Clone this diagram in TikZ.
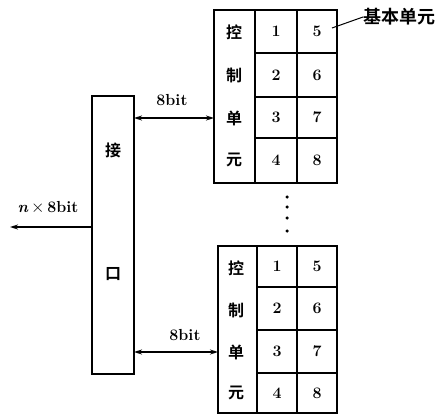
\documentclass[tikz,border=0pt]{standalone}
\usepackage{fontspec}
\newfontfamily\cjk{Noto Sans CJK SC Bold}
\usetikzlibrary{arrows.meta}
\begin{document}
\begin{tikzpicture}[x=1pt,y=-1pt,
  box/.style={draw,line width=2pt,inner sep=0pt,outer sep=0pt},
  lbl/.style={inner sep=0pt,font=\fontsize{16}{16}\selectfont\bfseries},
  ch/.style={inner sep=0pt,font=\cjk\fontsize{16}{16}\selectfont},
  link/.style={line width=2pt,{Stealth[length=8pt,width=5pt]}-{Stealth[length=8pt,width=5pt]}},
  dotn/.style={circle,fill,inner sep=0pt,minimum size=3.5pt}]
\useasboundingbox (0,0) rectangle (441,415);
% interface
\node[box,minimum width=42pt,minimum height=278pt] (iface) at (113,235) {};
\node[ch] (jie) at (113,150) {接};
\node[ch] (kou) at (113,274) {口};
% upper block
\node[box,minimum width=41pt,minimum height=173pt] (uc) at (234.5,96.5) {};
\node[ch] (u1) at (234,32) {控};
\node[ch] (u2) at (234,75) {制};
\node[ch] (u3) at (234,118) {单};
\node[ch] (u4) at (234,160) {元};
\node[box,minimum width=42pt,minimum height=43pt] (ua1) at (276,31.5) {};
\node[box,minimum width=42pt,minimum height=44pt] (ua2) at (276,75) {};
\node[box,minimum width=42pt,minimum height=41pt] (ua3) at (276,117.5) {};
\node[box,minimum width=42pt,minimum height=45pt] (ua4) at (276,160.5) {};
\node[box,minimum width=40pt,minimum height=43pt] (ub1) at (317,31.5) {};
\node[box,minimum width=40pt,minimum height=44pt] (ub2) at (317,75) {};
\node[box,minimum width=40pt,minimum height=41pt] (ub3) at (317,117.5) {};
\node[box,minimum width=40pt,minimum height=45pt] (ub4) at (317,160.5) {};
\node[lbl] at (ua1) {1}; \node[lbl] at (ua2) {2}; \node[lbl] at (ua3) {3}; \node[lbl] at (ua4) {4};
\node[lbl] at (ub1) {5}; \node[lbl] at (ub2) {6}; \node[lbl] at (ub3) {7}; \node[lbl] at (ub4) {8};
% lower block
\node[box,minimum width=39pt,minimum height=167pt] (lc) at (237.5,329.5) {};
\node[ch] (l1) at (236,268) {控};
\node[ch] (l2) at (236,310) {制};
\node[ch] (l3) at (236,352) {单};
\node[ch] (l4) at (236,393) {元};
\node[box,minimum width=40pt,minimum height=41pt] (la1) at (277,266.5) {};
\node[box,minimum width=40pt,minimum height=43pt] (la2) at (277,308.5) {};
\node[box,minimum width=40pt,minimum height=43pt] (la3) at (277,351.5) {};
\node[box,minimum width=40pt,minimum height=40pt] (la4) at (277,393) {};
\node[box,minimum width=40pt,minimum height=41pt] (lb1) at (317,266.5) {};
\node[box,minimum width=40pt,minimum height=43pt] (lb2) at (317,308.5) {};
\node[box,minimum width=40pt,minimum height=43pt] (lb3) at (317,351.5) {};
\node[box,minimum width=40pt,minimum height=40pt] (lb4) at (317,393) {};
\node[lbl] at (la1) {1}; \node[lbl] at (la2) {2}; \node[lbl] at (la3) {3}; \node[lbl] at (la4) {4};
\node[lbl] at (lb1) {5}; \node[lbl] at (lb2) {6}; \node[lbl] at (lb3) {7}; \node[lbl] at (lb4) {8};
% dots
\node[dotn] (d1) at (287,197) {};
\node[dotn] (d2) at (287,207) {};
\node[dotn] (d3) at (287,218) {};
\node[dotn] (d4) at (287,231) {};
% connectors
\coordinate (ua) at (iface.east |- 0,118);
\coordinate (la) at (iface.east |- 0,352);
\draw[link] (ua) -- (uc.west |- ua);
\draw[link] (la) -- (lc.west |- la);
\node[lbl] (t8a) at (172,100) {8bit};
\node[lbl] (t8b) at (185,335) {8bit};
\coordinate (nin) at (10,227);
\draw[line width=2pt,{Stealth[length=8pt,width=5pt]}-] (nin) -- (iface.west |- nin);
\node[lbl] (tn) at (48,208) {\textit{n}\,$\times$\,8bit};
% label
\node[ch,anchor=west,font=\cjk\fontsize{18}{18}\selectfont] (jb) at (363,17) {基本单元};
\draw[line width=1pt] (332,28) -- (jb.west);
\end{tikzpicture}
\end{document}
